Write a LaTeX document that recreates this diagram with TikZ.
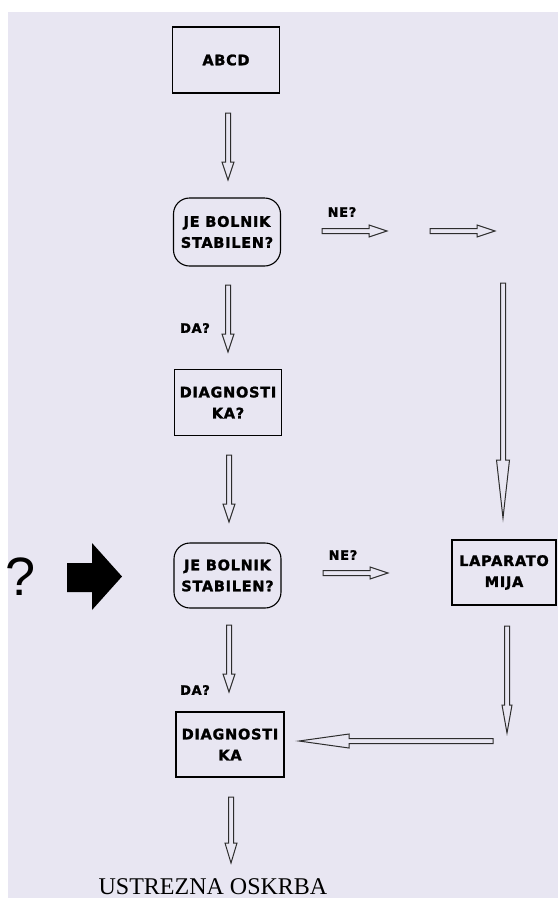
\documentclass[tikz,border=0pt]{standalone}
\usepackage{fontspec}
\setmainfont{Liberation Serif}
\newfontfamily\bxfont[LetterSpace=5,FakeBold=1.6]{DejaVu Sans Bold}
\newfontfamily\qfont{Liberation Sans}
\usetikzlibrary{calc}
\definecolor{bg}{RGB}{232,230,242}
\definecolor{arr}{RGB}{45,45,45}
\tikzset{
  box/.style={draw=black, line width=1.1pt, minimum width=107pt, minimum height=66pt,
    font=\bxfont\fontsize{14.5}{21}\selectfont, align=center, inner sep=0pt},
  rbox/.style={box, rounded corners=16pt},
  lbl/.style={font=\bxfont\fontsize{13}{15}\selectfont, inner sep=0pt},
  hollowline/.style={draw=arr, fill=bg, line width=1pt, line join=miter}
}
% hollow block arrow from coordinate #1 to coordinate #2; head length #3, head half width #4
\newcommand\hollowarrow[4]{%
  \draw[hollowline] let \p1=(#1), \p2=(#2),
    \n1={atan2(\y2-\y1,\x2-\x1)}, \n2={veclen(\x2-\x1,\y2-\y1)} in
    [shift={(\p1)}, rotate=\n1]
    (0pt,-2.5pt) -- ({\n2*1pt-#3},-2.5pt) -- ({\n2*1pt-#3},-#4) -- ({\n2*1pt},0pt)
    -- ({\n2*1pt-#3},#4) -- ({\n2*1pt-#3},2.5pt) -- (0pt,2.5pt) -- cycle;}
\begin{document}
\begin{tikzpicture}[x=1pt,y=-1pt]
\useasboundingbox (0,0) rectangle (558,898);
\fill[white] (0,0) rectangle (558,898);
\fill[bg] (8,12) rectangle (558,898);

% nodes
\node[box]  (abcd)  at (226,60)    {ABCD};
\node[rbox, minimum height=68pt] (stab1) at (227,232) {JE BOLNIK\\STABILEN?};
\node[box]  (diag1) at (228,402.5) {DIAGNOSTI\\KA?};
\node[rbox, minimum height=65pt] (stab2) at (227.5,575.5) {JE BOLNIK\\STABILEN?};
\node[box, minimum width=104pt, minimum height=65pt] (lap) at (504,572.5) {LAPARATO\\MIJA};
\node[box, minimum width=108pt, minimum height=65pt] (diag2) at (230,744.5) {DIAGNOSTI\\KA};
\node[anchor=base, font=\fontsize{24}{28}\selectfont, inner sep=0pt] (end) at (213,894) {USTREZNA OSKRBA};

% labels
\node[lbl] (ne1) at (342,212) {NE?};
\node[lbl] (ne2) at (343,555) {NE?};
\node[lbl] (da1) at (195,328) {DA?};
\node[lbl] (da2) at (195,690) {DA?};
\node[anchor=base, font=\qfont\fontsize{54}{60}\selectfont, inner sep=0pt] (q) at (21,595) {?};

% big black arrow
\fill[black] (67,563) -- (92,563) -- (92,543) -- (122,576.5) -- (92,610) -- (92,592) -- (67,592) -- cycle;

% arrow end points
\coordinate (a1s) at (228,113); \coordinate (a1e) at (228,180);
\coordinate (a2s) at (228,285); \coordinate (a2e) at (228,352);
\coordinate (a3s) at (229,455); \coordinate (a3e) at (229,522);
\coordinate (a4s) at (229,625); \coordinate (a4e) at (229,692);
\coordinate (a5s) at (231,797); \coordinate (a5e) at (231,863);
\coordinate (n1s) at (322,231); \coordinate (n1e) at (387,231);
\coordinate (n2s) at (430,231); \coordinate (n2e) at (495,231);
\coordinate (rvs) at (503,283); \coordinate (rve) at (503,518);
\coordinate (n3s) at (323,573); \coordinate (n3e) at (388,573);
\coordinate (lds) at (507,626); \coordinate (lde) at (507,733);
\coordinate (bls) at (493,741); \coordinate (ble) at (299,741);

\hollowarrow{a1s}{a1e}{18pt}{6pt}
\hollowarrow{a2s}{a2e}{18pt}{6pt}
\hollowarrow{a3s}{a3e}{18pt}{6pt}
\hollowarrow{a4s}{a4e}{18pt}{6pt}
\hollowarrow{a5s}{a5e}{20pt}{6pt}
\hollowarrow{n1s}{n1e}{18pt}{6pt}
\hollowarrow{n2s}{n2e}{18pt}{6pt}
\hollowarrow{rvs}{rve}{58pt}{6.5pt}
\hollowarrow{n3s}{n3e}{18pt}{6pt}
\hollowarrow{lds}{lde}{28pt}{5pt}
\hollowarrow{bls}{ble}{50pt}{7pt}
\end{tikzpicture}
\end{document}
